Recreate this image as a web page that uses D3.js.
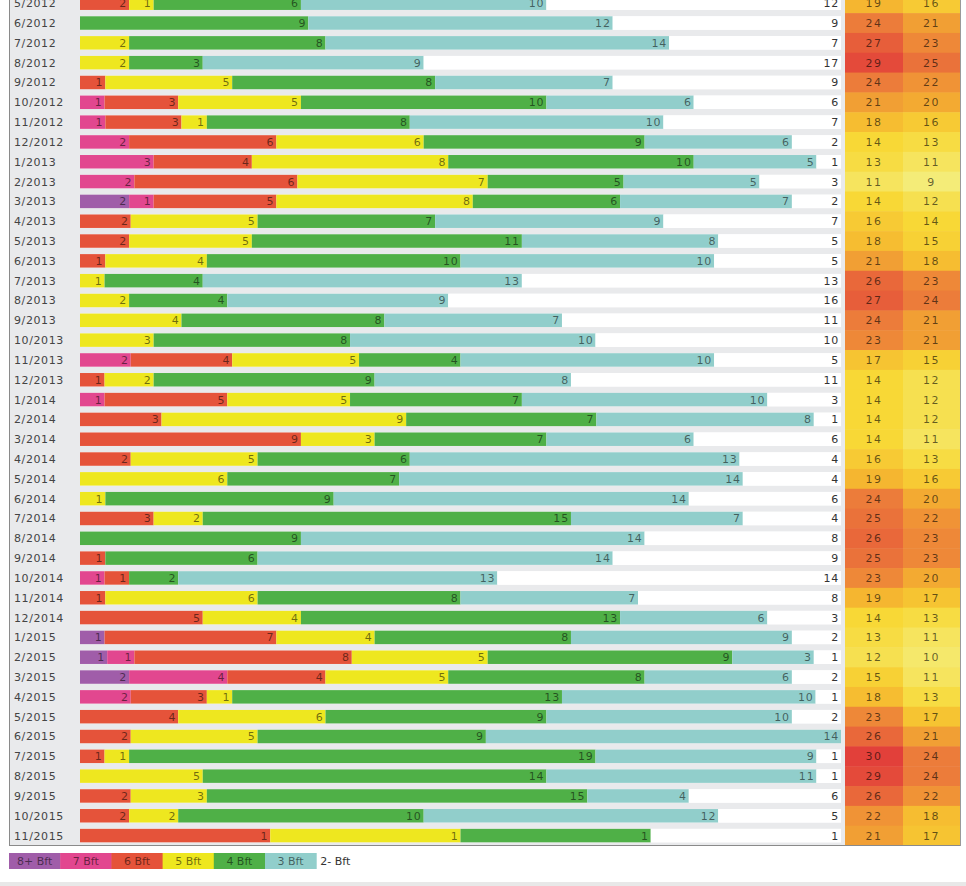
<!DOCTYPE html>
<html>
  <head>
    <meta charset="utf-8">
    <title>Wind force days per month</title>
    <script src="https://d3js.org/d3.v7.min.js"></script>
    <style>
      body { margin: 0; background: #fff; }
      text { font-family: "DejaVu Sans", Verdana, sans-serif; }
    </style>
  </head>
  <body>
  <svg id="chart" width="966" height="886"></svg>

  <script>
  // months shown (first row is partly cut off at the top)
  var months = ["5/2012","6/2012","7/2012","8/2012","9/2012","10/2012","11/2012","12/2012",
    "1/2013","2/2013","3/2013","4/2013","5/2013","6/2013","7/2013","8/2013","9/2013","10/2013","11/2013","12/2013",
    "1/2014","2/2014","3/2014","4/2014","5/2014","6/2014","7/2014","8/2014","9/2014","10/2014","11/2014","12/2014",
    "1/2015","2/2015","3/2015","4/2015","5/2015","6/2015","7/2015","8/2015","9/2015","10/2015","11/2015"];

  // days per month with max wind in each Beaufort class
  var bft8 = [0,0,0,0,0,0,0,0,0,0, 2,0,0,0,0,0,0,0,0,0, 0,0,0,0,0,0,0,0,0,0, 0,0,1,1,2,0,0,0,0,0, 0,0,0];
  var bft7 = [0,0,0,0,0,1,1,2,3,2, 1,0,0,0,0,0,0,0,2,0, 1,0,0,0,0,0,0,0,0,1, 0,0,0,1,4,2,0,0,0,0, 0,0,0];
  var bft6 = [2,0,0,0,1,3,3,6,4,6, 5,2,2,1,0,0,0,0,4,1, 5,3,9,2,0,0,3,0,1,1, 1,5,7,8,4,3,4,2,1,0, 2,2,1];
  var bft5 = [1,0,2,2,5,5,1,6,8,7, 8,5,5,4,1,2,4,3,5,2, 5,9,3,5,6,1,2,0,0,0, 6,4,4,5,5,1,6,5,1,5, 3,2,1];
  var bft4 = [6,9,8,3,8,10,8,9,10,5, 6,7,11,10,4,4,8,8,4,9, 7,7,7,6,7,9,15,9,6,2, 8,13,8,9,8,13,9,9,19,14, 15,10,1];
  var bft3 = [10,12,14,9,7,6,10,6,5,5, 7,9,8,10,13,9,7,10,10,8, 10,8,6,13,14,14,7,14,14,13, 7,6,9,3,6,10,10,14,9,11, 4,12,0];
  var bft2 = [12,9,7,17,9,6,7,2,1,3, 2,7,5,5,13,16,11,10,5,11, 3,1,6,4,4,6,4,8,9,14, 8,3,2,1,2,1,2,0,1,1, 6,5,1];

  // two temperature columns
  var tempHigh = [19,24,27,29,24,21,18,14,13,11, 14,16,18,21,26,27,24,23,17,14, 14,14,14,16,19,24,25,26,25,23, 19,14,13,12,15,18,23,26,30,29, 26,22,21];
  var tempLow = [16,21,23,25,22,20,16,13,11,9, 12,14,15,18,23,24,21,21,15,12, 12,12,11,13,16,20,22,23,23,20, 17,13,11,10,11,13,17,21,24,24, 22,18,17];

  var classNames = ["8+ Bft","7 Bft","6 Bft","5 Bft","4 Bft","3 Bft","2- Bft"];
  var classColors = ["#a05da9","#e2478f","#e5533a","#eee71f","#4fb047","#91cecb","#ffffff"];
  var series = [bft8, bft7, bft6, bft5, bft4, bft3, bft2];

  var svg = d3.select("#chart");

  var barLeft = 80, barRight = 841;
  var heatLeft = 845, heatMid = 903, heatRight = 960;

  var y = d3.scaleBand()
    .domain(months)
    .range([-6.7, 845.5])
    .paddingInner(0.32)
    .paddingOuter(0.16);

  var heat = d3.scaleLinear()
    .domain([9, 14, 19, 24, 30])
    .range(["#f4ec78", "#f8d836", "#f5b630", "#ec7c3a", "#e2403a"]);

  // panel background
  svg.append("rect")
    .attr("x", 9).attr("y", -10)
    .attr("width", heatRight - 9).attr("height", 855)
    .attr("fill", "#e9eaec");

  var rows = svg.append("g").selectAll("g.row")
    .data(months)
    .enter().append("g")
    .attr("class", "row");

  rows.each(function(m, i) {
    var g = d3.select(this);
    var counts = series.map(function(s) { return s[i]; });
    var total = d3.sum(counts);
    var x = d3.scaleLinear().domain([0, total]).range([barLeft, barRight]);

    var segs = [];
    var acc = 0;
    counts.forEach(function(c, k) {
      segs.push({k: k, v: c, x0: acc, x1: acc + c});
      acc += c;
    });

    // white base so an empty 2- segment still reads as white
    g.append("rect")
      .attr("x", barLeft).attr("y", y(m))
      .attr("width", barRight - barLeft).attr("height", y.bandwidth())
      .attr("fill", "#fff");

    g.selectAll("rect.seg")
      .data(segs.filter(function(d) { return d.v > 0; }))
      .enter().append("rect")
      .attr("class", "seg")
      .attr("x", function(d) { return x(d.x0); })
      .attr("y", y(m))
      .attr("width", function(d) { return x(d.x1) - x(d.x0); })
      .attr("height", y.bandwidth())
      .attr("fill", function(d) { return classColors[d.k]; });

    g.selectAll("text.num")
      .data(segs.filter(function(d) { return d.v > 0; }))
      .enter().append("text")
      .attr("class", "num")
      .attr("x", function(d) { return x(d.x1) - 2; })
      .attr("y", y(m) + y.bandwidth() / 2)
      .attr("dy", "0.36em")
      .attr("text-anchor", "end")
      .attr("font-size", 11)
      .attr("letter-spacing", "0.8px")
      .attr("fill", function(d) { return d.k == 6 ? "#333" : "rgba(0,0,0,0.55)"; })
      .text(function(d) { return d.v; });

    // month label
    g.append("text")
      .attr("x", 14)
      .attr("y", y(m) + y.bandwidth() / 2)
      .attr("dy", "0.36em")
      .attr("font-size", 11)
      .attr("letter-spacing", "0.6px")
      .attr("fill", "#444")
      .text(m);

    // temperature cells
    var top = y(m) + y.bandwidth() / 2 - y.step() / 2;
    [[tempHigh[i], heatLeft, heatMid], [tempLow[i], heatMid, heatRight]].forEach(function(c) {
      g.append("rect")
        .attr("x", c[1]).attr("y", top)
        .attr("width", c[2] - c[1]).attr("height", y.step() + 0.5)
        .attr("fill", heat(c[0]));
      g.append("text")
        .attr("x", (c[1] + c[2]) / 2)
        .attr("y", top + y.step() / 2)
        .attr("dy", "0.36em")
        .attr("text-anchor", "middle")
        .attr("font-size", 11)
        .attr("letter-spacing", "1.5px")
        .attr("fill", "rgba(0,0,0,0.6)")
        .text(c[0]);
    });
  });

  // panel borders
  svg.append("line")
    .attr("x1", 9.5).attr("x2", 9.5).attr("y1", 0).attr("y2", 845.5)
    .attr("stroke", "#8a8a8a");
  svg.append("line")
    .attr("x1", 9).attr("x2", heatRight + 1).attr("y1", 845.5).attr("y2", 845.5)
    .attr("stroke", "#8a8a8a");
  svg.append("line")
    .attr("x1", heatRight + 0.5).attr("x2", heatRight + 0.5).attr("y1", 0).attr("y2", 846)
    .attr("stroke", "#9a9a9a");

  // legend
  var legend = svg.append("g").attr("transform", "translate(9, 853)");
  var sw = 51.2;
  legend.selectAll("rect")
    .data(classNames.slice(0, 6))
    .enter().append("rect")
    .attr("x", function(d, i) { return i * sw; })
    .attr("width", sw + 0.5)
    .attr("height", 16)
    .attr("fill", function(d, i) { return classColors[i]; });
  legend.selectAll("text")
    .data(classNames)
    .enter().append("text")
    .attr("x", function(d, i) { return i < 6 ? i * sw + sw / 2 : i * sw + 4; })
    .attr("y", 8)
    .attr("dy", "0.36em")
    .attr("text-anchor", function(d, i) { return i < 6 ? "middle" : "start"; })
    .attr("font-size", 11)
    .attr("fill", function(d, i) { return i < 6 ? "rgba(0,0,0,0.55)" : "#333"; })
    .text(function(d) { return d; });

  // grey strip at the very bottom
  svg.append("rect")
    .attr("x", 0).attr("y", 882)
    .attr("width", 966).attr("height", 4)
    .attr("fill", "#e8e8e8");
  </script>
  </body>
</html>
